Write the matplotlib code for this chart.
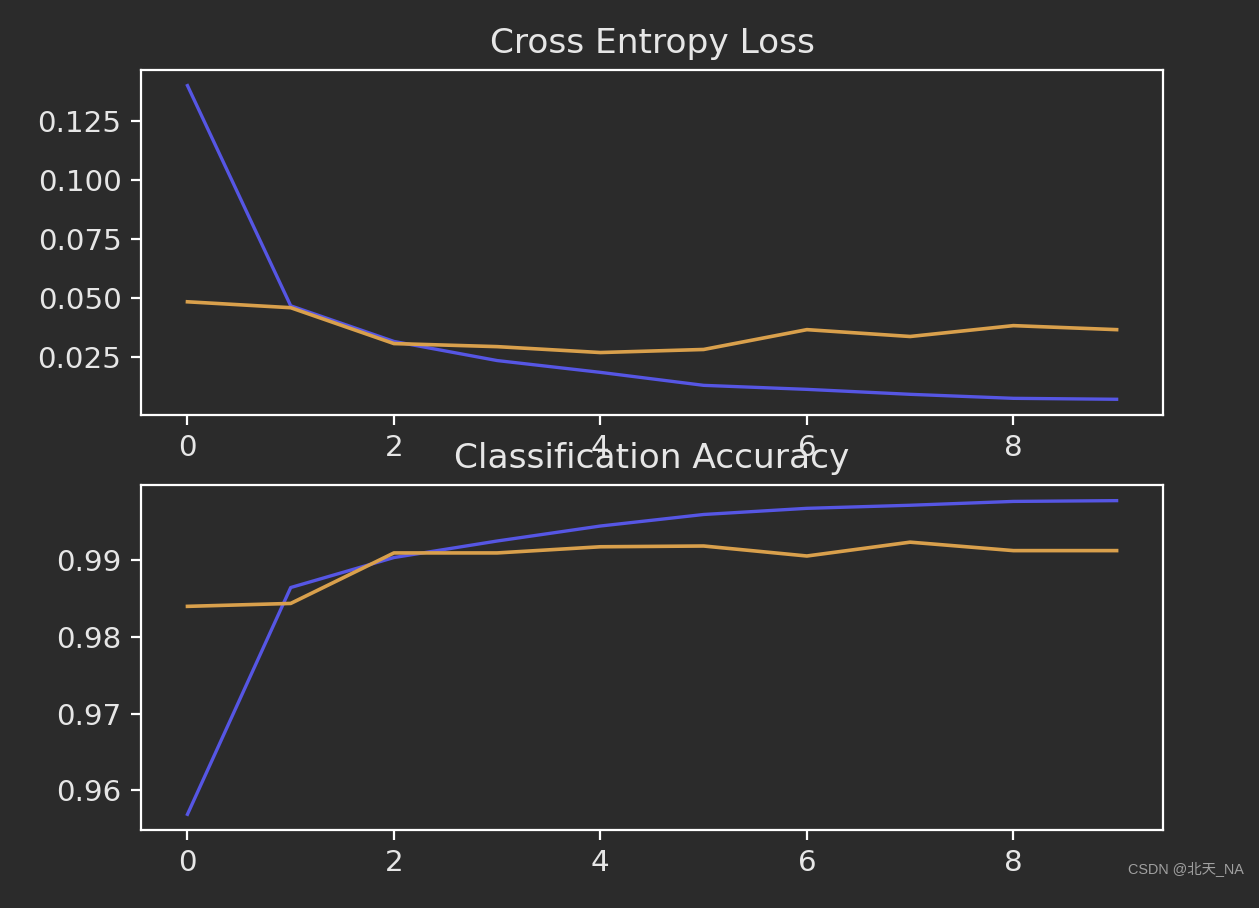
import matplotlib
matplotlib.use("Agg")
import matplotlib.pyplot as plt
from matplotlib.ticker import MultipleLocator

# training history
epochs = list(range(10))
train_loss = [0.1402, 0.0469, 0.0318, 0.0237, 0.0187, 0.0132, 0.0115, 0.0094, 0.0077, 0.0073]
val_loss = [0.0486, 0.0461, 0.0309, 0.0296, 0.0271, 0.0284, 0.0368, 0.0339, 0.0385, 0.0368]
train_acc = [0.9569, 0.9864, 0.9903, 0.99245, 0.9944, 0.9959, 0.9967, 0.9971, 0.9976, 0.9977]
val_acc = [0.98395, 0.98433, 0.9909, 0.9909, 0.9917, 0.9918, 0.9905, 0.9923, 0.9912, 0.9912]

bg = "#2b2b2b"
fg = "#e6e6e6"
blue = "#5656e4"
orange = "#d9a04c"

plt.rcParams['font.family'] = ['DejaVu Sans', 'Noto Sans CJK SC']
plt.rcParams['font.size'] = 10.6

fig = plt.figure(figsize=(6.295, 4.54), dpi=200, facecolor=bg)

ax1 = fig.add_axes([0.112, 0.543, 0.8118, 0.380])
ax1.set_title("Cross Entropy Loss", color=fg, fontsize=12.4)
ax1.plot(epochs, train_loss, color=blue, lw=1.2)
ax1.plot(epochs, val_loss, color=orange, lw=1.3)
ax1.yaxis.set_major_locator(MultipleLocator(0.025))

ax2 = fig.add_axes([0.112, 0.0859, 0.8118, 0.380])
ax2.set_title("Classification Accuracy", color=fg, fontsize=12.4)
ax2.plot(epochs, train_acc, color=blue, lw=1.2)
ax2.plot(epochs, val_acc, color=orange, lw=1.3)
ax2.yaxis.set_major_locator(MultipleLocator(0.01))

for ax in (ax1, ax2):
    ax.set_facecolor(bg)
    for s in ax.spines.values():
        s.set_color("white")
    ax.tick_params(colors="white", labelcolor=fg)
    ax.set_xticks([0, 2, 4, 6, 8])

fig.text(0.988, 0.043, "CSDN @北天_NA", color="#a0a0a0", fontsize=5.2,
         ha="right", va="center", family=['Liberation Sans', 'Noto Sans CJK SC'])

fig.savefig("out.png", dpi=200, facecolor=bg)
